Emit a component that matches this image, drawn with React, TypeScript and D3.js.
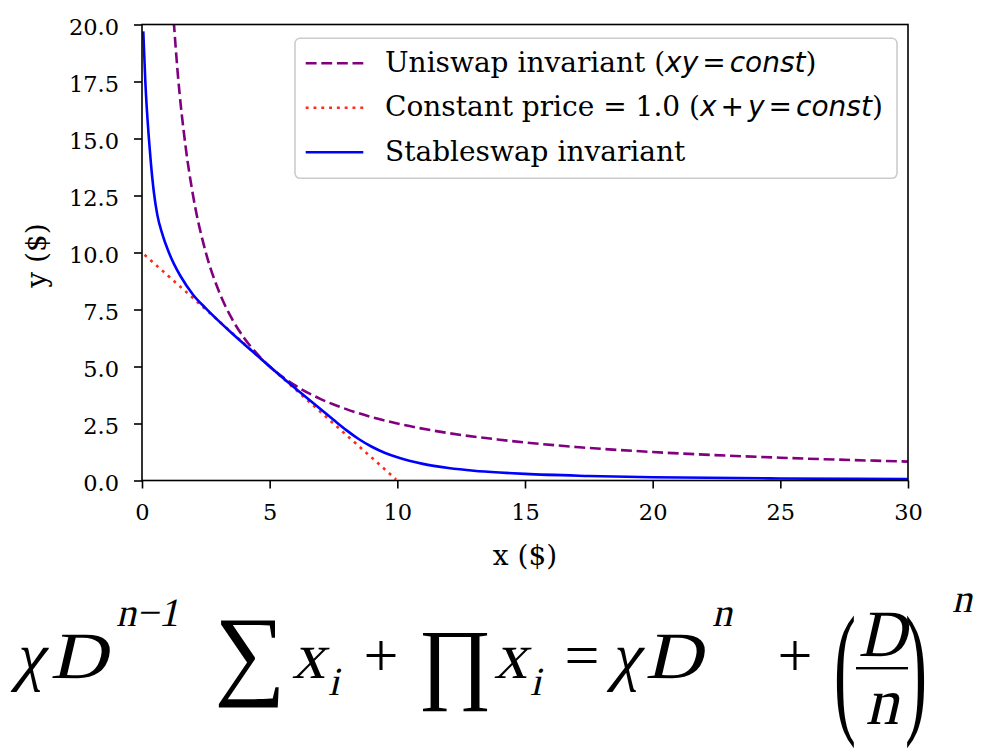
import { useEffect, useRef } from "react";
import * as d3 from "d3";

// Uniswap invariant, xy = const
const uniswapX = [1.2, 1.4, 1.7, 2, 2.5, 3, 3.5, 4, 4.5, 5, 6, 7, 8, 9, 10, 12, 14, 17, 20, 25, 30];
const uniswapY = [20.83, 17.86, 14.71, 12.5, 10, 8.33, 7.14, 6.25, 5.56, 5, 4.17, 3.57, 3.13, 2.78, 2.5, 2.08, 1.79, 1.47, 1.25, 1.0, 0.83];

// Constant price line, x + y = const
const constantX = [0.1, 5, 9.95];
const constantY = [9.9, 5, 0.05];

// Stableswap invariant
const stableX = [0.05, 0.13, 0.27, 0.35, 0.47, 0.6, 0.8, 1.0, 1.25, 1.5, 2.0, 2.5, 3.0, 3.5, 4.0, 4.5, 5.0, 5.5, 6.0, 6.5, 7.0, 7.5, 8.0, 8.5, 9.0, 9.5, 10, 11, 12, 13, 14, 15, 17.5, 20, 25, 30];
const stableY = [19.7, 17.5, 15.0, 13.9, 12.6, 11.65, 10.8, 10.15, 9.5, 8.98, 8.15, 7.55, 7.0, 6.48, 5.98, 5.49, 5.0, 4.52, 4.05, 3.59, 3.12, 2.66, 2.21, 1.81, 1.48, 1.22, 1.02, 0.73, 0.55, 0.43, 0.35, 0.29, 0.2, 0.14, 0.09, 0.06];

const xTicks = [0, 5, 10, 15, 20, 25, 30];
const yTicks = [0, 2.5, 5, 7.5, 10, 12.5, 15, 17.5, 20];

const SERIF = "DejaVu Serif";
const MATH = "DejaVu Sans";
const TEX = "'Liberation Serif', 'DejaVu Serif', serif";

const App = () => {
    const chartRef = useRef<SVGSVGElement>(null);

    useEffect(() => {
        if (!chartRef.current) return;

        const root = d3.select(chartRef.current);
        root.selectAll("*").remove();

        const margin = { top: 24.5, right: 84, bottom: 267.5, left: 142 };
        const width = 992 - margin.left - margin.right;
        const height = 748 - margin.top - margin.bottom;

        const svg = root.append("g").attr("transform", `translate(${margin.left},${margin.top})`);

        const x = d3.scaleLinear().domain([0, 30]).range([0, width]);
        const y = d3.scaleLinear().domain([0, 20]).range([height, 0]);

        svg.append("clipPath")
            .attr("id", "plot-clip")
            .append("rect")
            .attr("width", width)
            .attr("height", height);

        const line = d3
            .line<[number, number]>()
            .x((d) => x(d[0]))
            .y((d) => y(d[1]));

        const series = [
            {
                pts: uniswapX.map((v, i) => [v, uniswapY[i]] as [number, number]),
                color: "#800080",
                dash: "10.9 4.7",
                curve: d3.curveMonotoneX,
            },
            {
                pts: constantX.map((v, i) => [v, constantY[i]] as [number, number]),
                color: "#ff2a1a",
                dash: "2.9 4.9",
                curve: d3.curveLinear,
            },
            {
                pts: stableX.map((v, i) => [v, stableY[i]] as [number, number]),
                color: "#0000ff",
                dash: null,
                curve: d3.curveMonotoneX,
            },
        ];

        const plot = svg.append("g").attr("clip-path", "url(#plot-clip)");
        series.forEach((s) => {
            plot.append("path")
                .attr("fill", "none")
                .attr("stroke", s.color)
                .attr("stroke-width", 2.6)
                .attr("stroke-dasharray", s.dash)
                .attr("d", line.curve(s.curve)(s.pts));
        });

        // x-axis
        const xAxis = svg
            .append("g")
            .attr("transform", `translate(0,${height})`)
            .call(d3.axisBottom(x).tickValues(xTicks).tickSize(8).tickPadding(16).tickFormat(d3.format("d")));
        xAxis.select(".domain").remove();
        xAxis.selectAll("line").attr("stroke", "#000").attr("stroke-width", 1.6);
        xAxis.selectAll("text").attr("font-family", SERIF).attr("font-size", 22.5).attr("fill", "#000");

        // y-axis
        const yAxis = svg
            .append("g")
            .call(d3.axisLeft(y).tickValues(yTicks).tickSize(8).tickPadding(15).tickFormat(d3.format(".1f")));
        yAxis.select(".domain").remove();
        yAxis.selectAll("line").attr("stroke", "#000").attr("stroke-width", 1.6);
        yAxis.selectAll("text")
            .attr("font-family", SERIF)
            .attr("font-size", 22.5)
            .attr("fill", "#000")
            .attr("dy", "0.43em");

        // spines
        svg.append("rect")
            .attr("width", width)
            .attr("height", height)
            .attr("fill", "none")
            .attr("stroke", "#000")
            .attr("stroke-width", 1.6);

        // axis labels
        svg.append("text")
            .attr("x", width / 2)
            .attr("y", height + 84)
            .attr("text-anchor", "middle")
            .attr("font-family", SERIF)
            .attr("font-size", 28)
            .text("x ($)");

        svg.append("text")
            .attr("transform", `translate(${46 - margin.left},${height / 2 + 3}) rotate(-90)`)
            .attr("text-anchor", "middle")
            .attr("font-family", SERIF)
            .attr("font-size", 28)
            .text("y ($)");

        // legend
        const legend = root.append("g").attr("transform", "translate(295,38.3)");
        legend.append("rect")
            .attr("width", 602)
            .attr("height", 140)
            .attr("rx", 5)
            .attr("fill", "#fff")
            .attr("fill-opacity", 0.8)
            .attr("stroke", "#cccccc")
            .attr("stroke-width", 1.6);

        // [text, kind]: 0 = serif, 1 = math italic, 2 = math operator
        const rows: { parts: [string, number][] }[] = [
            { parts: [["Uniswap invariant (", 0], ["xy", 1], ["=", 2], ["const", 1], [")", 0]] },
            {
                parts: [
                    ["Constant price = 1.0 (", 0],
                    ["x", 1],
                    ["+", 2],
                    ["y", 1],
                    ["=", 2],
                    ["const", 1],
                    [")", 0],
                ],
            },
            { parts: [["Stableswap invariant", 0]] },
        ];

        rows.forEach((r, i) => {
            const cy = 25 + i * 44.5;
            legend.append("line")
                .attr("x1", 10.7)
                .attr("x2", 68.3)
                .attr("y1", cy)
                .attr("y2", cy)
                .attr("stroke", series[i].color)
                .attr("stroke-width", 2.6)
                .attr("stroke-dasharray", series[i].dash);
            const t = legend.append("text")
                .attr("x", 90)
                .attr("y", cy + 8.4)
                .attr("font-family", SERIF)
                .attr("font-size", 28)
                .attr("xml:space", "preserve");
            let prevOp = false;
            r.parts.forEach(([s, kind]) => {
                const sp = t.append("tspan").text(s);
                if (kind === 1) sp.attr("font-family", MATH).attr("font-style", "oblique");
                if (kind === 2) sp.attr("font-family", MATH).attr("dx", 4);
                if (prevOp) sp.attr("dx", 4);
                prevOp = kind === 2;
            });
        });

        // formula (serif glyphs, slanted by hand for the italic letters)
        const f = root.append("g").attr("fill", "#000").attr("font-family", TEX);
        const put = (s: string, px: number, py: number, size: number, italic: boolean, anchor = "start", sx = 1) =>
            f.append("text")
                .attr("transform", `translate(${px},${py})${italic ? " skewX(-13)" : ""}${sx !== 1 ? ` scale(${sx},1)` : ""}`)
                .attr("font-size", size)
                .attr("text-anchor", anchor)
                .text(s);

        const base = 678;
        const big = 66;
        const op = 62;
        const small = 40;
        put("χ", 14, base, big, true);
        put("D", 50, base, big, true, "start", 1.2);
        const sup = put("n", 116, 626, small, true);
        sup.append("tspan").text("−1");
        put("∑", 250, 686, 100, false, "middle");
        put("x", 292, base, big, true);
        put("i", 328, 695, small, true);
        put("+", 381, base - 2, op, false, "middle");
        put("∏", 455, 692, 90, false, "middle");
        put("x", 494, base, big, true);
        put("i", 530, 695, small, true);
        put("=", 582, base - 2, op, false, "middle");
        put("χ", 610, base, big, true);
        put("D", 645, base, big, true, "start", 1.2);
        put("n", 712, 626, small, true);
        put("+", 795, base - 2, op, false, "middle");
        put("D", 882, 656, big, true, "middle");
        put("n", 882, 724, big, true, "middle");
        f.append("rect").attr("x", 856).attr("y", 667).attr("width", 52).attr("height", 2.4);
        f.append("text")
            .attr("transform", "translate(834,717) scale(1,2.2)")
            .attr("font-size", 66)
            .text("(");
        f.append("text")
            .attr("transform", "translate(905,717) scale(1,2.2)")
            .attr("font-size", 66)
            .text(")");
        put("n", 952, 612, small, true);
    }, []);

    return (
        <div style={{ position: "absolute", left: 0, top: 0 }}>
            <svg ref={chartRef} width={992} height={748} />
        </div>
    );
};

export default App;
